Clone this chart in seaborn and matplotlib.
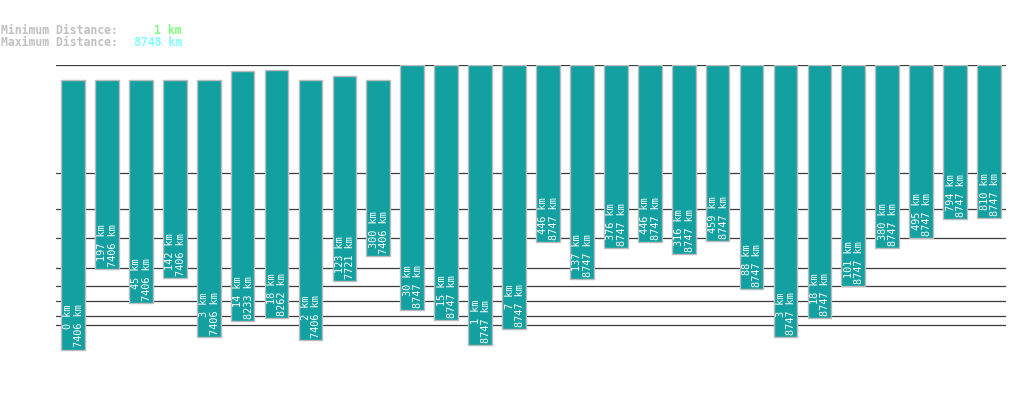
import numpy as np
import pandas as pd
import matplotlib
matplotlib.use("Agg")
import matplotlib.pyplot as plt
import seaborn as sns

# ---- data ----
min_km = [0.4, 197, 45, 142, 3, 14, 18, 2, 123, 300, 30, 15, 1, 7, 446, 137,
          376, 446, 316, 459, 88, 3, 18, 101, 380, 495, 794, 810]
max_km = [7406, 7406, 7406, 7406, 7406, 8233, 8262, 7406, 7721, 7406, 8747, 8747,
          8747, 8747, 8747, 8747, 8747, 8747, 8747, 8747, 8747, 8747, 8747, 8747,
          8747, 8747, 8747, 8747]
grid_km = [10, 20, 50, 100, 200, 500, 1000, 2000, 8748]
overall_min_label = "1 km"
overall_max_label = "8748 km"

W, H, DPI = 1019, 402, 100
P = 0.301

sns.set_style("white")
plt.rcParams['font.family'] = ['DejaVu Sans Mono', 'DejaVu Sans']

fig = plt.figure(figsize=(W / DPI, H / DPI), dpi=DPI)
ax = fig.add_axes([56 / W, (H - 365.3) / H, (1006 - 56) / W, (365.3 - 66.3) / H])

df = pd.DataFrame({"idx": [str(i) for i in range(len(min_km))],
                   "lo": min_km, "hi": max_km})
sns.barplot(data=df, x="idx", y="hi", ax=ax, width=0.7, color="#12a0a0",
            saturation=1, edgecolor="#bbbbbb", linewidth=1.0, zorder=3)

for patch, lo, hi in zip(ax.patches, min_km, max_km):
    patch.set_y(lo)
    patch.set_height(hi - lo)
    patch.set_facecolor("#12a0a0")

ax.set_yscale("function", functions=(lambda d: np.sign(d) * np.abs(d) ** P,
                                     lambda t: np.sign(t) * np.abs(t) ** (1 / P)))
ax.set_ylim(0, 8748)
ax.set_xlim(-0.5, len(min_km) - 0.5)
ax.set_yticks(grid_km)
ax.yaxis.grid(True, color="#3c3c3c", linewidth=0.9, zorder=0)
ax.xaxis.grid(False)
ax.set_axisbelow(True)
ax.tick_params(left=False, bottom=False, labelleft=False, labelbottom=False)
ax.set_xlabel("")
ax.set_ylabel("")
for s in ax.spines.values():
    s.set_visible(False)

for i, (lo, hi) in enumerate(zip(min_km, max_km)):
    ax.annotate(f"{int(lo)} km\n{int(hi)} km", xy=(i, lo), xytext=(0.5, 2.2),
                textcoords="offset points", rotation=90, ha="center", va="bottom",
                multialignment="right", color="white", fontsize=7.4,
                linespacing=1.05, zorder=5)

fs = 8.3
fig.text(1 / W, 1 - 31 / H, "Minimum Distance:", color="#c0c0c0", fontsize=fs,
         fontweight="bold", ha="left", va="center")
fig.text(1 / W, 1 - 43 / H, "Maximum Distance:", color="#c0c0c0", fontsize=fs,
         fontweight="bold", ha="left", va="center")
fig.text(182 / W, 1 - 31 / H, overall_min_label, color="#80ff80", fontsize=fs,
         fontweight="bold", ha="right", va="center")
fig.text(182 / W, 1 - 43 / H, overall_max_label, color="#80ffff", fontsize=fs,
         fontweight="bold", ha="right", va="center")

fig.savefig("out.png", dpi=DPI, facecolor="white")
